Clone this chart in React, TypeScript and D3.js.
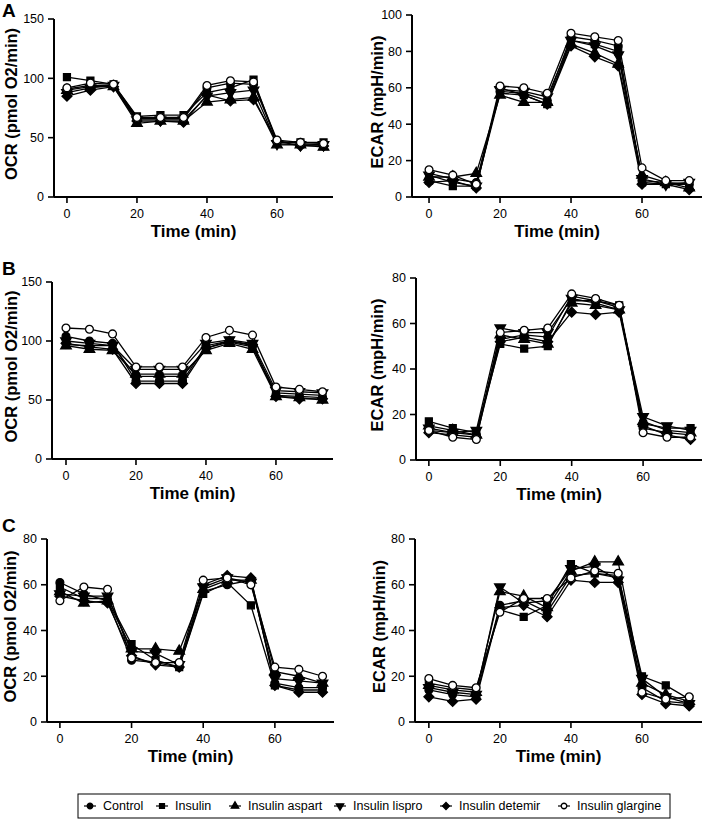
import React from "react";
import * as d3 from "d3";

// ---------- data ----------
const TIMES = [0, 6.7, 13.3, 20, 26.7, 33.3, 40, 46.7, 53.3, 60, 66.7, 73.3];
const SERIES = ["Control", "Insulin", "Insulin aspart", "Insulin lispro", "Insulin detemir", "Insulin glargine"];

const OCR_A = [
  [91, 94, 94, 66, 66, 66, 92, 96, 95, 47, 45, 44],
  [101, 98, 95, 68, 69, 69, 88, 92, 99, 46, 46, 46],
  [90, 93, 93, 62, 64, 64, 80, 82, 84, 44, 44, 42],
  [88, 92, 94, 65, 65, 65, 85, 88, 90, 45, 44, 44],
  [85, 90, 93, 64, 64, 63, 86, 81, 82, 47, 43, 43],
  [92, 96, 95, 67, 67, 67, 94, 98, 97, 48, 46, 45],
];
const ECAR_A = [
  [13, 10, 8, 58, 57, 53, 88, 86, 83, 9, 8, 7],
  [9, 6, 6, 57, 56, 51, 86, 84, 80, 8, 7, 7],
  [11, 11, 13, 56, 52, 52, 84, 79, 73, 12, 8, 5],
  [12, 8, 6, 59, 58, 55, 86, 83, 78, 10, 7, 8],
  [8, 9, 5, 60, 56, 51, 83, 77, 72, 7, 7, 4],
  [15, 12, 7, 61, 60, 57, 90, 88, 86, 16, 9, 9],
];
const OCR_B = [
  [104, 100, 98, 66, 66, 66, 96, 100, 96, 54, 53, 52],
  [97, 96, 96, 70, 70, 70, 94, 99, 95, 56, 55, 54],
  [96, 93, 92, 72, 72, 72, 92, 98, 93, 53, 52, 50],
  [100, 98, 96, 76, 76, 76, 98, 101, 98, 58, 57, 56],
  [98, 95, 93, 64, 64, 64, 94, 100, 97, 53, 51, 51],
  [111, 110, 106, 78, 78, 78, 103, 109, 105, 61, 59, 57],
];
const ECAR_B = [
  [13, 12, 11, 53, 55, 54, 72, 70, 67, 14, 12, 11],
  [17, 14, 12, 51, 49, 50, 70, 70, 68, 16, 14, 14],
  [15, 13, 11, 55, 53, 51, 69, 68, 66, 17, 13, 12],
  [14, 12, 13, 58, 56, 56, 71, 69, 66, 19, 15, 13],
  [12, 11, 10, 52, 54, 52, 65, 64, 65, 15, 11, 9],
  [13, 10, 9, 56, 57, 58, 73, 71, 68, 12, 10, 10],
];
const OCR_C = [
  [61, 56, 53, 27, 26, 24, 57, 60, 62, 17, 15, 15],
  [59, 54, 54, 34, 27, 24, 56, 61, 51, 16, 14, 14],
  [57, 52, 53, 32, 32, 31, 58, 62, 62, 22, 20, 17],
  [56, 55, 55, 31, 30, 25, 59, 63, 61, 19, 18, 17],
  [55, 53, 52, 29, 25, 24, 60, 64, 63, 16, 13, 13],
  [53, 59, 58, 28, 26, 26, 62, 63, 60, 24, 23, 20],
];
const ECAR_C = [
  [14, 12, 11, 51, 53, 48, 64, 65, 63, 15, 9, 8],
  [17, 15, 14, 49, 46, 51, 69, 65, 64, 20, 16, 10],
  [16, 14, 13, 57, 55, 50, 66, 70, 70, 17, 12, 9],
  [15, 13, 12, 59, 52, 53, 67, 68, 62, 19, 11, 8],
  [11, 9, 10, 50, 51, 46, 62, 61, 61, 12, 8, 7],
  [19, 16, 15, 48, 54, 54, 63, 66, 65, 13, 10, 11],
];

const X_TICKS = [0, 20, 40, 60];
const OCR_TICKS = [0, 50, 100, 150];
const ECAR_TICKS_100 = [0, 20, 40, 60, 80, 100];
const TICKS_80 = [0, 20, 40, 60, 80];

// ---------- layout ----------
const FONT = "'Liberation Sans', Arial, sans-serif";
type Panel = {
  letter: string; letterY: number; data: number[][]; yMax: number; yTicks: number[]; label: string;
  xr: [number, number]; xd: [number, number]; yr: [number, number]; titleX: number;
};
const PANELS: Panel[] = [
  { letter: "A", letterY: 17, data: OCR_A, yMax: 150, yTicks: OCR_TICKS, label: "OCR (pmol O2/min)", xr: [54, 333], xd: [-3.7, 76], yr: [197, 19], titleX: 11 },
  { letter: "", letterY: 0, data: ECAR_A, yMax: 100, yTicks: ECAR_TICKS_100, label: "ECAR (mpH/min)", xr: [412, 702], xd: [-4.8, 76.9], yr: [197, 15], titleX: 377 },
  { letter: "B", letterY: 275, data: OCR_B, yMax: 150, yTicks: OCR_TICKS, label: "OCR (pmol O2/min)", xr: [52, 333], xd: [-4, 76.3], yr: [459, 282], titleX: 11 },
  { letter: "", letterY: 0, data: ECAR_B, yMax: 80, yTicks: TICKS_80, label: "ECAR (mpH/min)", xr: [416, 702], xd: [-3.6, 76.5], yr: [460, 278], titleX: 377 },
  { letter: "C", letterY: 532, data: OCR_C, yMax: 80, yTicks: TICKS_80, label: "OCR (pmol O2/min)", xr: [47, 334], xd: [-3.6, 76.5], yr: [722, 539], titleX: 10 },
  { letter: "", letterY: 0, data: ECAR_C, yMax: 80, yTicks: TICKS_80, label: "ECAR (mpH/min)", xr: [415, 702], xd: [-3.9, 76.9], yr: [722, 539], titleX: 379 },
];

const SYMS = [
  { type: d3.symbolCircle, rot: 0, fill: "#000" },
  { type: d3.symbolSquare, rot: 0, fill: "#000" },
  { type: d3.symbolTriangle, rot: 0, fill: "#000" },
  { type: d3.symbolTriangle, rot: 180, fill: "#000" },
  { type: d3.symbolSquare, rot: 45, fill: "#000" },
  { type: d3.symbolCircle, rot: 0, fill: "#fff" },
];
const LEGEND_X = [90, 162, 235, 340, 446, 564];

function Marker({ i, x, y, size }: { i: number; x: number; y: number; size: number }) {
  const s = SYMS[i];
  const d = d3.symbol().type(s.type).size(size)() as string;
  return (
    <path d={d} transform={`translate(${x},${y}) rotate(${s.rot})`} fill={s.fill} stroke="#000" strokeWidth={1.3} />
  );
}

function ChartPanel({ p }: { p: Panel }) {
  const x = d3.scaleLinear().domain(p.xd).range(p.xr);
  const y = d3.scaleLinear().domain([0, p.yMax]).range(p.yr);
  const line = d3.line<number>().x((_, i) => x(TIMES[i])).y((v) => y(v));
  const x0 = p.xr[0];
  const yb = p.yr[0];
  const midY = (p.yr[0] + p.yr[1]) / 2 - 4;
  const midX = (p.xr[0] + p.xr[1]) / 2;
  return (
    <g>
      {p.letter && (
        <text x={2} y={p.letterY} fontFamily={FONT} fontWeight="bold" fontSize={19}>{p.letter}</text>
      )}
      {/* y axis */}
      <line x1={x0} x2={x0} y1={yb} y2={p.yr[1]} stroke="#000" strokeWidth={2} />
      {p.yTicks.map((t) => (
        <g key={"y" + t}>
          <line x1={x0 - 6} x2={x0} y1={y(t)} y2={y(t)} stroke="#000" strokeWidth={1.6} />
          <text x={x0 - 10} y={y(t)} dy="0.35em" textAnchor="end" fontFamily={FONT} fontSize={12.5}>{t}</text>
        </g>
      ))}
      {/* x axis */}
      <line x1={x0} x2={p.xr[1]} y1={yb} y2={yb} stroke="#000" strokeWidth={2} />
      {X_TICKS.map((t) => (
        <g key={"x" + t}>
          <line x1={x(t)} x2={x(t)} y1={yb} y2={yb + 6} stroke="#000" strokeWidth={1.6} />
          <text x={x(t)} y={yb + 12} dy="0.71em" textAnchor="middle" fontFamily={FONT} fontSize={12.5}>{t}</text>
        </g>
      ))}
      <text x={midX} y={yb + 40} textAnchor="middle" fontFamily={FONT} fontWeight="bold" fontSize={17}>Time (min)</text>
      <text transform={`translate(${p.titleX},${midY}) rotate(-90)`} dy="0.35em" textAnchor="middle" fontFamily={FONT} fontWeight="bold" fontSize={16.5}>{p.label}</text>
      {/* lines */}
      {p.data.map((s, si) => (
        <path key={"l" + si} d={line(s) as string} fill="none" stroke="#000" strokeWidth={1.3} />
      ))}
      {/* markers */}
      {p.data.map((s, si) =>
        s.map((v, i) => <Marker key={`m${si}-${i}`} i={si} x={x(TIMES[i])} y={y(v)} size={48} />)
      )}
    </g>
  );
}

export default function App() {
  return (
    <div>
      <style>{"body{margin:0}"}</style>
      <svg width={704} height={819} style={{ display: "block", background: "#fff" }}>
        <rect x={0} y={0} width={704} height={819} fill="#fff" />
        {PANELS.map((p, i) => <ChartPanel key={i} p={p} />)}
        {/* legend */}
        <rect x={78} y={794} width={592} height={24} fill="#fff" stroke="#000" strokeWidth={1} />
        {SERIES.map((name, i) => (
          <g key={name}>
            <line x1={LEGEND_X[i] - 6} x2={LEGEND_X[i] + 6} y1={806} y2={806} stroke="#000" strokeWidth={1.2} />
            <Marker i={i} x={LEGEND_X[i]} y={806} size={24} />
            <text x={LEGEND_X[i] + 13} y={806} dy="0.35em" fontFamily={FONT} fontSize={12.5}>{name}</text>
          </g>
        ))}
      </svg>
    </div>
  );
}
